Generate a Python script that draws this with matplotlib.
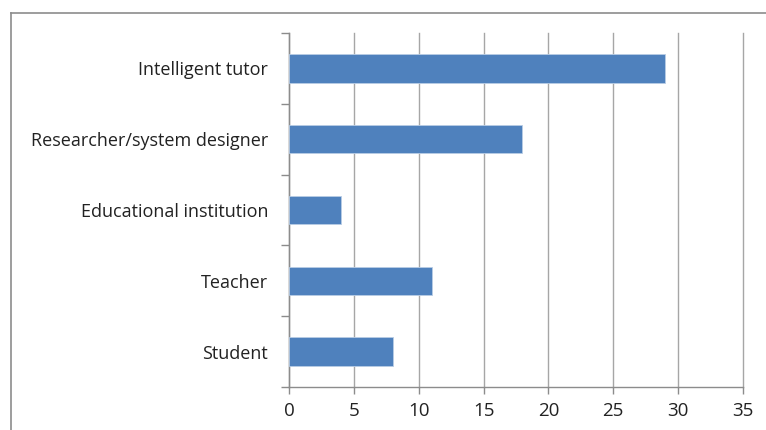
import matplotlib.pyplot as plt
from matplotlib.lines import Line2D
import numpy as np

categories = ['Student', 'Teacher', 'Educational institution',
              'Researcher/system designer', 'Intelligent tutor']
values = [8, 11, 4, 18, 29]
x_ticks = [0, 5, 10, 15, 20, 25, 30, 35]

plt.rcParams['font.family'] = ['Open Sans', 'DejaVu Sans']

fig = plt.figure(figsize=(7.66, 4.30), dpi=100)
ax = fig.add_axes([289/766, 1 - 387/430, (743 - 289)/766, (387 - 33)/430])

y = np.arange(len(categories))
ax.barh(y, values, height=0.4, color='#4f81bd', edgecolor='#b9cde5',
        linewidth=0.6, zorder=3)

ax.set_xlim(0, 35)
ax.set_ylim(-0.5, len(categories) - 0.5)
ax.set_xticks(x_ticks)
ax.set_xticklabels([str(t) for t in x_ticks], fontsize=13.5, color='#222222')
ax.set_yticks(y)
ax.set_yticklabels(categories, fontsize=13, color='#222222')
ax.tick_params(axis='y', length=0, pad=15)
ax.tick_params(axis='x', length=5, color='#8c8c8c', width=1, pad=6)

# category boundary ticks on the y axis
ax.set_yticks(np.arange(-0.5, len(categories), 1), minor=True)
ax.tick_params(axis='y', which='minor', length=6, color='#8c8c8c', width=1)

ax.grid(axis='x', color='#a6a6a6', linewidth=1, zorder=0)
for gl in ax.get_xgridlines():
    gl.set_clip_on(False)
for s in ['top', 'right']:
    ax.spines[s].set_visible(False)
for s in ['left', 'bottom']:
    ax.spines[s].set_color('#8c8c8c')
    ax.spines[s].set_linewidth(1)

# outer frame (left and top edges)
fig.add_artist(Line2D([11/766, 11/766], [0, 1 - 13/430], color='#8c8c8c', lw=1.2))
fig.add_artist(Line2D([11/766, 1], [1 - 13/430, 1 - 13/430], color='#8c8c8c', lw=1.2))

fig.savefig('out.png', dpi=100)
